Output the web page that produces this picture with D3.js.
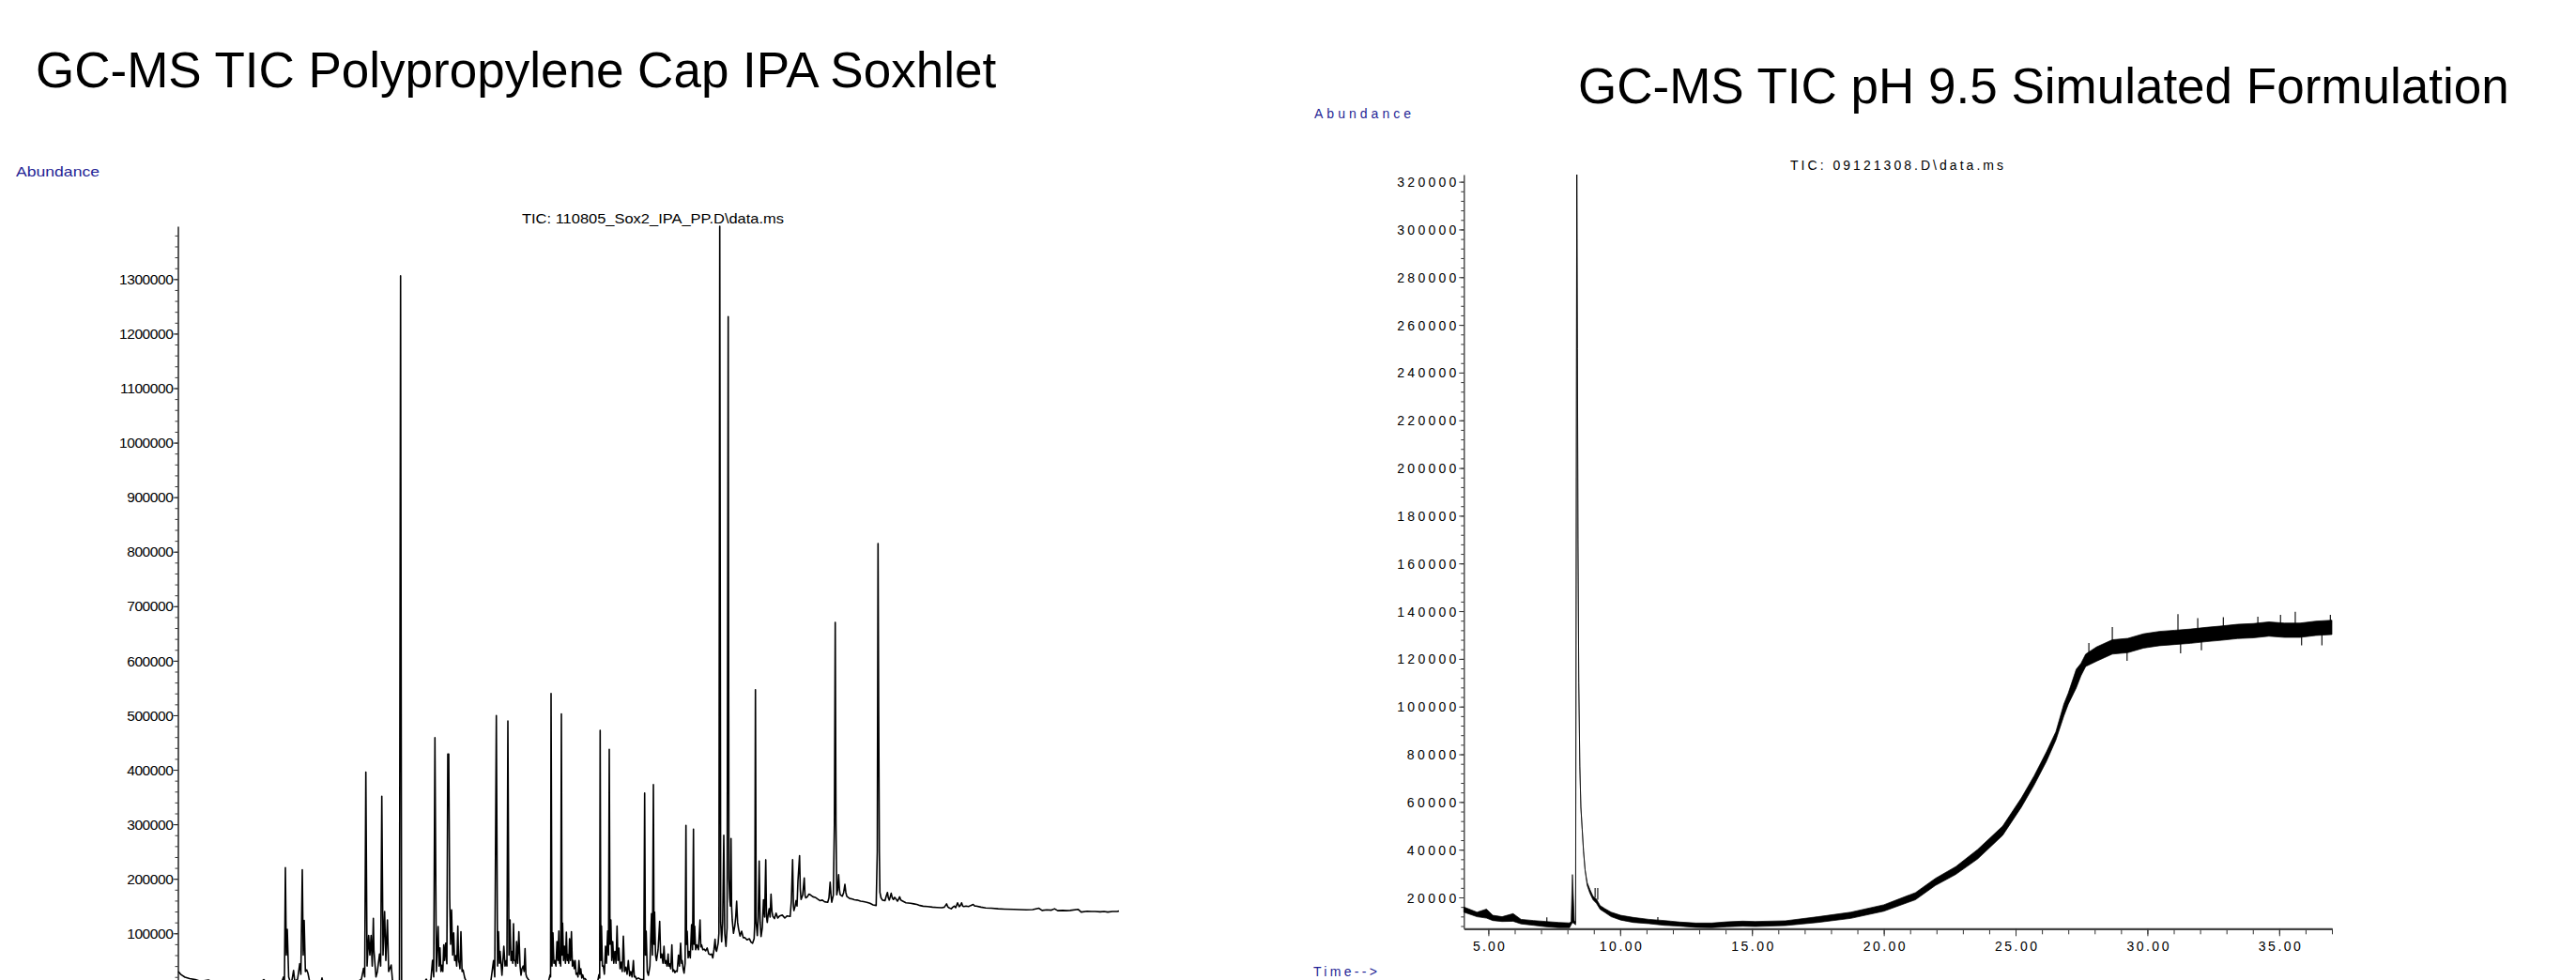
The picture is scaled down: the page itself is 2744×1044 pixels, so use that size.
<!DOCTYPE html>
<html>
<head>
<meta charset="utf-8">
<script src="https://cdn.jsdelivr.net/npm/d3@7"></script>
<style>
    html, body { margin: 0; padding: 0; background: #fff; overflow: hidden; }
    .title { font-family: "Liberation Sans", Arial, sans-serif; font-size: 53px; fill: #000; }
    .lbl { font-family: "Liberation Sans", Arial, sans-serif; fill: #000; }
    .blue { fill: #1f1f95; }
</style>
</head>
<body>
<div id="chart"></div>
<script>
// left chromatogram: [time (min), abundance]
let leftTrace = [
    [4.000, 30000], [4.120, 24000], [4.280, 19500], [4.480, 17000], [4.720, 15000], [4.960, 12000],
    [5.280, 14500], [5.440, 11000], [6.400, 10000], [7.520, 11000], [7.640, 15000], [7.760, 10000],
    [8.400, 10000], [8.480, 20000], [8.520, 12000], [8.560, 220600], [8.600, 60000], [8.640, 107400],
    [8.700, 20000], [8.760, 12000], [8.840, 14000], [8.908, 32000], [8.960, 12000], [9.080, 16000],
    [9.172, 44200], [9.220, 25000], [9.280, 216500], [9.320, 60000], [9.360, 123500], [9.412, 30000],
    [9.468, 33000], [9.520, 27000], [9.580, 14000], [9.680, 10000], [10.080, 10000], [10.120, 18000],
    [10.160, 10000], [11.600, 10000], [11.800, 16000], [11.892, 36000], [11.940, 20000], [11.988, 395600],
    [12.040, 40000], [12.108, 95900], [12.160, 60000], [12.212, 95900], [12.260, 40000], [12.308, 127500],
    [12.332, 70000], [12.360, 53500], [12.420, 20000], [12.480, 30000], [12.572, 62000], [12.620, 40000],
    [12.668, 351500], [12.720, 60000], [12.788, 140000], [12.840, 50000], [12.908, 124500], [12.960, 30000],
    [13.068, 42000], [13.120, 15000], [13.200, 10000], [13.420, 12000], [13.468, 1305900], [13.512, 12000],
    [13.600, 10000], [14.480, 10000], [14.560, 16000], [14.640, 10000], [14.760, 15000], [14.828, 50600],
    [14.880, 20000], [14.932, 458800], [14.992, 30000], [15.068, 112300], [15.108, 40000], [15.148, 73300],
    [15.188, 30000], [15.228, 41600], [15.268, 30000], [15.308, 79000], [15.348, 50000], [15.388, 81800],
    [15.440, 44200], [15.480, 429000], [15.520, 429000], [15.560, 166000], [15.600, 80000], [15.640, 143000],
    [15.688, 60000], [15.732, 100800], [15.772, 50000], [15.812, 59100], [15.860, 40000], [15.908, 113300],
    [15.940, 50000], [15.972, 44200], [16.000, 35000], [16.040, 103000], [16.088, 30000], [16.132, 32700],
    [16.200, 18400], [16.280, 10000], [17.200, 10000], [17.320, 14000], [17.428, 50000], [17.480, 20000],
    [17.548, 499600], [17.600, 40000], [17.640, 103000], [17.680, 45000], [17.708, 67000], [17.788, 23000],
    [17.868, 76400], [17.920, 40000], [17.972, 50000], [18.000, 40000], [18.040, 489300], [18.088, 60000],
    [18.132, 124700], [18.172, 50000], [18.212, 67000], [18.248, 45000], [18.280, 117800], [18.312, 50000],
    [18.348, 50000], [18.380, 40000], [18.412, 84700], [18.460, 45000], [18.508, 103000], [18.560, 40000],
    [18.600, 23000], [18.640, 35000], [18.692, 40000], [18.732, 30000], [18.772, 71800], [18.808, 25000],
    [18.840, 20000], [18.932, 14000], [19.040, 10000], [19.760, 10000], [19.840, 24000], [19.860, 20000],
    [19.880, 539800], [19.920, 40000], [19.960, 100800], [20.000, 45000], [20.040, 50000], [20.088, 40000],
    [20.132, 84700], [20.172, 50000], [20.212, 104100], [20.240, 45000], [20.268, 50000], [20.292, 40000],
    [20.320, 502500], [20.348, 60000], [20.372, 119000], [20.412, 50000], [20.452, 76400], [20.492, 45000],
    [20.532, 102000], [20.568, 50000], [20.600, 61000], [20.632, 45000], [20.668, 90000], [20.708, 50000],
    [20.748, 103000], [20.788, 40000], [20.828, 50000], [20.868, 35000], [20.908, 50000], [20.948, 25000],
    [20.988, 27000], [21.028, 20000], [21.068, 50000], [21.108, 25000], [21.148, 35000], [21.188, 18000],
    [21.228, 24000], [21.280, 16000], [21.332, 17000], [21.440, 10000], [21.868, 12000], [21.920, 24000],
    [21.952, 18000], [21.972, 472100], [22.000, 50000], [22.028, 113300], [22.068, 40000], [22.108, 40000],
    [22.152, 25000], [22.200, 76400], [22.240, 45000], [22.292, 104100], [22.328, 60000], [22.360, 437600],
    [22.392, 80000], [22.428, 124700], [22.468, 50000], [22.508, 84700], [22.552, 45000], [22.600, 67000],
    [22.648, 45000], [22.692, 113300], [22.732, 50000], [22.772, 73000], [22.820, 35000], [22.868, 47000],
    [22.912, 30000], [22.960, 95000], [23.012, 30000], [23.068, 38000], [23.120, 25000], [23.172, 50000],
    [23.228, 22000], [23.280, 30000], [23.332, 20000], [23.388, 50000], [23.428, 20000], [23.468, 21000],
    [23.520, 16000], [23.600, 18000], [23.720, 15000], [23.828, 15000], [23.868, 357200], [23.900, 60000],
    [23.932, 104000], [23.980, 30000], [24.028, 23000], [24.092, 40000], [24.160, 136200], [24.200, 60000],
    [24.240, 372700], [24.268, 80000], [24.292, 139000], [24.332, 60000], [24.372, 50000], [24.440, 70000],
    [24.508, 121800], [24.552, 55000], [24.600, 62000], [24.648, 45000], [24.692, 76400], [24.732, 45000],
    [24.772, 50000], [24.820, 40000], [24.868, 62000], [24.900, 40000], [24.932, 44000], [24.980, 35000],
    [25.028, 79000], [25.068, 30000], [25.108, 33000], [25.160, 28000], [25.200, 31000], [25.252, 30000],
    [25.308, 60000], [25.352, 40000], [25.400, 81800], [25.440, 45000], [25.468, 50000], [25.508, 35000],
    [25.548, 27000], [25.592, 45000], [25.628, 298100], [25.652, 80000], [25.680, 104000], [25.720, 55000],
    [25.760, 67000], [25.812, 55000], [25.868, 116000], [25.908, 70000], [25.948, 291200], [25.972, 80000],
    [26.000, 113000], [26.040, 70000], [26.092, 79000], [26.160, 70000], [26.228, 124700], [26.260, 75000],
    [26.292, 79000], [26.348, 70000], [26.400, 71000], [26.468, 68000], [26.532, 73000], [26.600, 62000],
    [26.668, 61000], [26.720, 62000], [26.772, 55000], [26.820, 70000], [26.868, 89000], [26.900, 70000],
    [26.932, 67000], [26.968, 75000], [27.000, 81800], [27.032, 100000], [27.068, 1397000], [27.108, 120000],
    [27.148, 84700], [27.192, 120000], [27.240, 279700], [27.280, 100000], [27.332, 76000], [27.380, 110000],
    [27.428, 1231000], [27.460, 200000], [27.492, 164800], [27.520, 150000], [27.548, 274000], [27.572, 150000],
    [27.600, 124700], [27.652, 100000], [27.708, 113000], [27.748, 130000], [27.788, 159000], [27.828, 120000],
    [27.868, 108500], [27.932, 95000], [28.000, 104000], [28.068, 92000], [28.132, 92200], [28.228, 88000],
    [28.332, 90000], [28.400, 84000], [28.468, 81800], [28.532, 90000], [28.560, 120000], [28.588, 546700],
    [28.620, 120000], [28.668, 96000], [28.708, 130000], [28.748, 232600], [28.788, 120000], [28.828, 94000],
    [28.880, 110000], [28.932, 161700], [28.980, 130000], [29.028, 234900], [29.060, 130000], [29.092, 120000],
    [29.132, 135000], [29.172, 145000], [29.212, 130000], [29.252, 172000], [29.292, 140000], [29.332, 131000],
    [29.400, 127000], [29.468, 137000], [29.540, 128000], [29.620, 132000], [29.732, 133400], [29.840, 128000],
    [29.940, 132000], [30.068, 131000], [30.120, 160000], [30.172, 235000], [30.208, 150000], [30.228, 141700],
    [30.280, 150000], [30.320, 160000], [30.360, 150000], [30.400, 196000], [30.468, 242300], [30.500, 180000],
    [30.532, 162000], [30.600, 170000], [30.668, 201700], [30.700, 170000], [30.732, 165000], [30.800, 167000],
    [30.868, 172000], [30.932, 170600], [31.040, 167000], [31.132, 166000], [31.232, 163000], [31.332, 160000],
    [31.440, 161000], [31.532, 158000], [31.668, 157000], [31.720, 165000], [31.772, 194000], [31.808, 170000],
    [31.840, 157000], [31.880, 165000], [31.908, 170000], [31.952, 300000], [31.988, 670200], [32.020, 300000],
    [32.052, 170600], [32.092, 180000], [32.132, 207600], [32.168, 180000], [32.200, 171000], [32.292, 168000],
    [32.348, 175000], [32.400, 190000], [32.440, 175000], [32.480, 168000], [32.600, 164000], [32.720, 163000],
    [32.800, 161700], [32.920, 161000], [33.068, 159000], [33.200, 158000], [33.332, 157000], [33.468, 155000],
    [33.600, 152200], [33.732, 151000], [33.780, 250000], [33.812, 815000], [33.840, 500000], [33.868, 250000],
    [33.892, 175000], [33.940, 165000], [34.000, 161000], [34.108, 160000], [34.160, 168000], [34.212, 175000],
    [34.252, 165000], [34.292, 161000], [34.332, 167000], [34.372, 173500], [34.420, 165000], [34.468, 162000],
    [34.520, 166000], [34.560, 164000], [34.640, 159000], [34.692, 163000], [34.732, 167000], [34.780, 161000],
    [34.828, 160000], [35.000, 156000], [35.200, 155000], [35.332, 154000], [35.468, 153000], [35.600, 151000],
    [35.732, 149800], [35.920, 149000], [36.132, 148000], [36.320, 147500], [36.532, 147000], [36.640, 148000],
    [36.732, 154000], [36.780, 149000], [36.828, 147000], [36.932, 145000], [37.000, 148000], [37.068, 150000],
    [37.120, 147000], [37.200, 156000], [37.268, 149000], [37.320, 151000], [37.372, 156000], [37.420, 150000],
    [37.468, 149000], [37.560, 150000], [37.668, 149000], [37.760, 151000], [37.868, 153000], [37.932, 150000],
    [38.000, 150000], [38.200, 148000], [38.400, 146400], [38.640, 146000], [38.932, 145000], [39.200, 144500],
    [39.600, 144000], [39.840, 143500], [40.132, 143000], [40.400, 143500], [40.668, 146000], [40.800, 142000],
    [41.000, 143000], [41.200, 142500], [41.332, 145000], [41.468, 141500], [41.680, 142000], [41.840, 141500],
    [42.000, 142000], [42.332, 144000], [42.468, 139000], [42.720, 140500], [42.920, 140000], [43.068, 140000],
    [43.280, 139500], [43.440, 140000], [43.600, 139000], [43.800, 140000], [44.000, 140000], [44.080, 141000]
];

let leftYTicks = [100000, 200000, 300000, 400000, 500000, 600000, 700000, 800000, 900000,
    1000000, 1100000, 1200000, 1300000];

// right chromatogram: noisy trace read as [time, low, high]
let rightBand = [
    [4.07, 13800, 16000], [4.57, 11900, 13800], [4.93, 11300, 15100], [5.17, 10300, 12500],
    [5.52, 9900, 11900], [5.94, 10000, 13200], [6.24, 8900, 10800], [6.72, 8300, 10300],
    [7.19, 7700, 9900], [7.67, 7300, 9500], [8.08, 7300, 9300], [8.14, 8500, 9900],
    [8.19, 9500, 29600], [8.26, 9000, 10400], [8.31, 8500, 9500], [8.355, 323000, 323000],
    [8.38, 250000, 250000], [8.40, 170000, 170000], [8.43, 110000, 110000], [8.47, 75000, 75000],
    [8.51, 57800, 57800], [8.56, 48600, 48600], [8.61, 39400, 39400], [8.67, 31500, 31500],
    [8.75, 25000, 26200], [8.85, 21800, 23400], [8.97, 19000, 20500], [9.10, 17500, 19300],
    [9.24, 15000, 16600], [9.42, 13700, 15300], [9.66, 11900, 13800], [10.02, 10500, 12500],
    [10.50, 9500, 11600], [11.09, 9000, 10800], [11.68, 8300, 10300], [12.28, 7950, 9650],
    [12.87, 7430, 9250], [13.47, 7290, 9250], [14.06, 7690, 9770], [14.65, 7950, 10040],
    [15.13, 7800, 9900], [16.27, 8200, 10200], [17.50, 9500, 11900], [18.75, 11200, 13800],
    [20.00, 14200, 16900], [21.20, 19000, 22000], [21.96, 25000, 28000], [22.73, 29600, 32900],
    [23.56, 36100, 40100], [24.51, 46000, 49900], [25.22, 57800, 61700], [25.70, 67000, 70900],
    [26.17, 77000, 81000], [26.53, 86000, 89500], [26.83, 96000, 101000], [27.00, 101000, 105700],
    [27.30, 107800, 115600], [27.48, 112900, 118100], [27.66, 116800, 122000], [28.07, 119000, 125000],
    [28.67, 122000, 128000], [29.26, 122600, 128600], [29.85, 124500, 130500], [30.45, 125500, 131500],
    [31.04, 126000, 132000], [31.64, 126500, 132500], [32.23, 127200, 133200], [32.83, 127800, 133800],
    [33.42, 128500, 134500], [34.01, 128800, 134800], [34.61, 129500, 135500], [35.20, 129000, 135000],
    [35.79, 129000, 135000], [36.39, 129800, 135800], [37.00, 130200, 136200]
];

// single noise spikes: [time, from, to]
let rightSpikes = [
    [7.22, 9000, 11600], [9.05, 20000, 23900], [9.15, 19000, 23900], [11.43, 9500, 11700],
    [27.78, 121000, 126600], [28.67, 125000, 133300], [29.23, 125600, 119200], [31.16, 129000, 138700],
    [31.26, 129000, 122300], [31.91, 129500, 137100], [32.05, 130000, 123600], [32.88, 130800, 137500],
    [34.19, 132000, 137700], [35.05, 132000, 138400], [35.61, 132000, 139700], [35.85, 132000, 125700],
    [36.62, 132500, 125700], [36.94, 133000, 138400]
];

let rightYTicks = [20000, 40000, 60000, 80000, 100000, 120000, 140000, 160000, 180000,
    200000, 220000, 240000, 260000, 280000, 300000, 320000];
let rightXTicks = [5, 10, 15, 20, 25, 30, 35];

let width = 2744;
let height = 1044;

let svg = d3.select("#chart")
    .append("svg")
    .attr("width", width)
    .attr("height", height)
    .style("display", "block");

svg.append("rect").attr("width", width).attr("height", height).attr("fill", "#fff");

// ---------- left panel ----------
let xL = d3.scaleLinear().domain([4, 45]).range([190, 1215]);
let yL = d3.scaleLinear().domain([0, 1397000]).range([1052.35, 241]);
let axisXL = 189.5;

svg.append("text").attr("class", "title").attr("x", 38).attr("y", 93)
    .text("GC-MS TIC Polypropylene Cap IPA Soxhlet");

svg.append("text").attr("class", "lbl blue").attr("x", 17).attr("y", 188)
    .style("font-size", "15px").attr("textLength", 89).attr("lengthAdjust", "spacingAndGlyphs")
    .text("Abundance");

svg.append("text").attr("class", "lbl").attr("x", 556).attr("y", 238)
    .style("font-size", "15px").attr("textLength", 279).attr("lengthAdjust", "spacingAndGlyphs")
    .text("TIC: 110805_Sox2_IPA_PP.D\\data.ms");

// minor ticks
svg.append("g")
    .attr("transform", "translate(" + axisXL + ",0)")
    .call(d3.axisLeft(yL).tickValues(d3.range(20000, 1397000, 20000)).tickSize(3).tickFormat(""))
    .call(g => g.select(".domain").remove())
    .call(g => g.selectAll("line").attr("stroke", "#333"));

let leftAxis = svg.append("g")
    .attr("transform", "translate(" + axisXL + ",0)")
    .call(d3.axisLeft(yL).tickValues(leftYTicks).tickSize(5).tickSizeOuter(0).tickPadding(0).tickFormat(d => d));

leftAxis.select(".domain").attr("stroke", "#222").attr("stroke-width", 1.5);
leftAxis.selectAll("line").attr("stroke", "#222");
leftAxis.selectAll("text")
    .attr("class", "lbl")
    .attr("fill", "#000")
    .style("font-size", "15.5px")
    .style("letter-spacing", "-0.4px")
    .attr("font-family", null)
    .attr("dy", "0.33em");

let lineL = d3.line()
    .x((d) => xL(d[0]))
    .y((d) => yL(d[1]));

svg.append("path")
    .attr("d", lineL(leftTrace))
    .attr("fill", "none")
    .attr("stroke", "#000")
    .attr("stroke-width", 1.6)
    .attr("stroke-linejoin", "round");

// ---------- right panel ----------
let xR = d3.scaleLinear().domain([4.07, 37.0]).range([1559.3, 2484]);
let yR = d3.scaleLinear().domain([6900, 323000]).range([989.3, 186]);
let axisXR = 1559.3;
let axisYR = 989.3;

svg.append("text").attr("class", "title").attr("x", 1681).attr("y", 110)
    .text("GC-MS TIC pH 9.5 Simulated Formulation");

svg.append("text").attr("class", "lbl blue").attr("x", 1400).attr("y", 126)
    .style("font-size", "14px").attr("textLength", 103).attr("lengthAdjust", "spacing")
    .text("Abundance");

svg.append("text").attr("class", "lbl").attr("x", 1907).attr("y", 181)
    .style("font-size", "14px").attr("textLength", 227).attr("lengthAdjust", "spacing")
    .text("TIC: 09121308.D\\data.ms");

svg.append("text").attr("class", "lbl blue").attr("x", 1399).attr("y", 1040)
    .style("font-size", "14px").attr("textLength", 68).attr("lengthAdjust", "spacing")
    .text("Time-->");

// y minor ticks
svg.append("g")
    .attr("transform", "translate(" + axisXR + ",0)")
    .call(d3.axisLeft(yR).tickValues(d3.range(8000, 323000, 4000)).tickSize(3).tickFormat(""))
    .call(g => g.select(".domain").remove())
    .call(g => g.selectAll("line").attr("stroke", "#333"));

let rightAxis = svg.append("g")
    .attr("transform", "translate(" + axisXR + ",0)")
    .call(d3.axisLeft(yR).tickValues(rightYTicks).tickSize(5).tickSizeOuter(0).tickPadding(3).tickFormat(d => d));

rightAxis.select(".domain").attr("stroke", "#333").attr("stroke-width", 1.3);
rightAxis.selectAll("line").attr("stroke", "#333");
rightAxis.selectAll("text")
    .attr("class", "lbl")
    .attr("fill", "#000")
    .attr("font-family", null)
    .style("font-size", "14px")
    .attr("dy", "0.36em")
    .attr("textLength", (d) => String(d).length * 10.5)
    .attr("lengthAdjust", "spacing");

// x axis
svg.append("g")
    .attr("transform", "translate(0," + axisYR + ")")
    .call(d3.axisBottom(xR).tickValues(d3.range(5, 37.01, 1)).tickSize(6).tickFormat(""))
    .call(g => g.select(".domain").remove())
    .call(g => g.selectAll("line").attr("stroke", "#333"));

let bottomAxis = svg.append("g")
    .attr("transform", "translate(0," + axisYR + ")")
    .call(d3.axisBottom(xR).tickValues(rightXTicks).tickSize(8).tickSizeOuter(0).tickFormat(d3.format(".2f")));

bottomAxis.select(".domain").attr("stroke", "#444").attr("stroke-width", 2.2);
bottomAxis.selectAll("line").attr("stroke", "#333");
bottomAxis.selectAll("text")
    .attr("class", "lbl")
    .attr("fill", "#000")
    .attr("font-family", null)
    .style("font-size", "14px")
    .attr("y", 23.4)
    .attr("dy", 0)
    .attr("textLength", (d) => d3.format(".2f")(d).length * 11 - 10)
    .attr("lengthAdjust", "spacing");

let bandR = d3.area()
    .x((d) => xR(d[0]))
    .y0((d) => yR(d[1]))
    .y1((d) => yR(d[2]));

svg.append("path")
    .attr("d", bandR(rightBand))
    .attr("fill", "#000")
    .attr("stroke", "#000")
    .attr("stroke-width", 0.7)
    .attr("stroke-linejoin", "round");

svg.append("g")
    .selectAll("line")
    .data(rightSpikes)
    .enter()
    .append("line")
    .attr("x1", (d) => xR(d[0]))
    .attr("x2", (d) => xR(d[0]))
    .attr("y1", (d) => yR(d[1]))
    .attr("y2", (d) => yR(d[2]))
    .attr("stroke", "#000")
    .attr("stroke-width", 1.1);
</script>
</body>
</html>
